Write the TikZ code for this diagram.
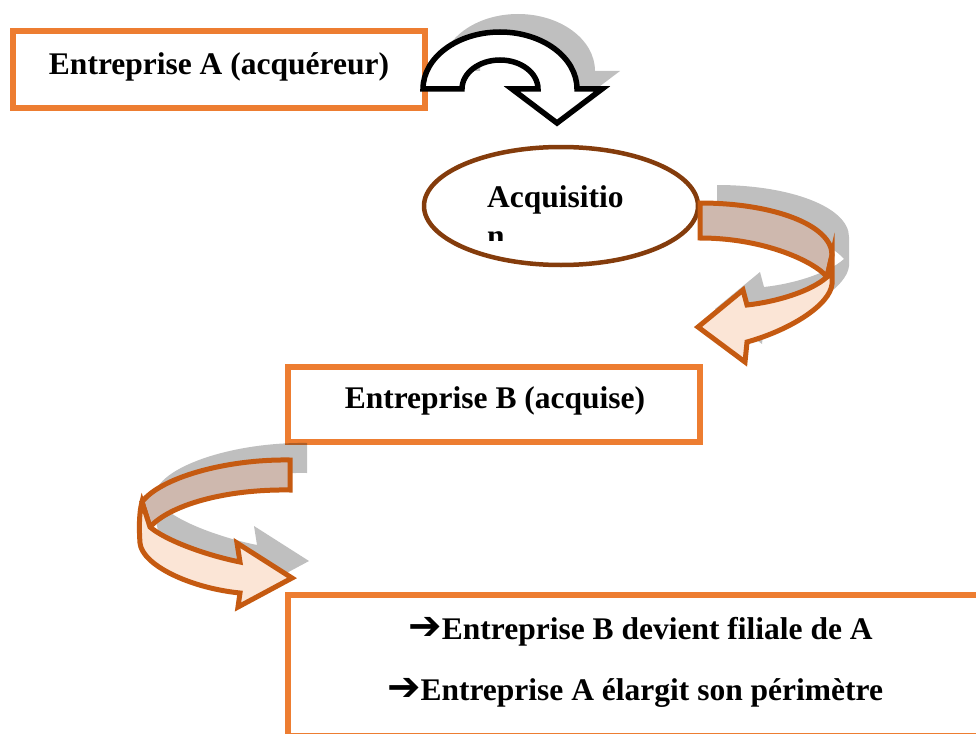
\documentclass[tikz,border=0pt]{standalone}
\usepackage{fontspec}
\setmainfont{Liberation Serif}
\newfontfamily\arrowfont{DejaVu Sans}
\usetikzlibrary{shapes.geometric}
\definecolor{boxorange}{RGB}{237,125,49}
\definecolor{ellbrown}{RGB}{132,60,12}
\definecolor{arrline}{RGB}{197,90,17}
\definecolor{frontfill}{RGB}{251,229,214}
\definecolor{backfill}{RGB}{206,184,174}
\definecolor{shadowgray}{RGB}{191,191,191}
\newcommand\topArrowPath{(423,89) .. controls (423,57.5) and (457.5,32) .. (500,32) .. controls (542.5,32) and (577,57.5) .. (577,89) -- (602,89) -- (557,123) -- (512,89) -- (538,89) .. controls (538,73) and (521,60) .. (500,60) .. controls (479,60) and (462,73) .. (462,89) -- cycle}
\newcommand\rightSil{(700,203) .. controls (773,203) and (832,225) .. (832,255) -- (832,284) .. controls (830,305) and (790,330) .. (747,342) -- (745,362) -- (698,327) -- (743,290) -- (747,305) .. controls (775,302) and (810,292) .. (827,277) .. controls (815,262) and (765,238) .. (700,238) -- cycle}
\newcommand\rightBack{(700,203) .. controls (773,203) and (832,225) .. (832,255) -- (827,277) .. controls (815,262) and (765,238) .. (700,238) -- cycle}
\newcommand\rightFront{(832,255) -- (832,284) .. controls (830,305) and (790,330) .. (747,342) -- (745,362) -- (698,327) -- (743,290) -- (747,305) .. controls (775,302) and (810,292) .. (827,277) -- cycle}
\newcommand\leftSil{(290,460) .. controls (225,459) and (160,478) .. (142,502) .. controls (139,512) and (139,530) .. (140,543) .. controls (142,565) and (190,588) .. (240,593) -- (238,607) -- (292,578) -- (237,543) -- (240,562) .. controls (205,555) and (165,540) .. (150,527) .. controls (170,505) and (225,489) .. (290,490) -- cycle}
\newcommand\leftBack{(290,460) .. controls (225,459) and (160,478) .. (142,502) -- (150,527) .. controls (170,505) and (225,489) .. (290,490) -- cycle}
\newcommand\leftFront{(142,502) .. controls (139,512) and (139,530) .. (140,543) .. controls (142,565) and (190,588) .. (240,593) -- (238,607) -- (292,578) -- (237,543) -- (240,562) .. controls (205,555) and (165,540) .. (150,527) -- cycle}
\tikzset{
  obox/.style={draw=boxorange, line width=6pt, fill=white, rectangle, inner sep=0pt},
  lbl/.style={font=\fontsize{31.5}{38}\selectfont\bfseries, inner sep=0pt, text=black},
  shadowfill/.style={fill=black, fill opacity=0.25},
  ribbon/.style={draw=arrline, line width=5pt, line join=miter},
}
\begin{document}
\begin{tikzpicture}[x=1pt, y=-1pt]
\useasboundingbox (0,0) rectangle (976,733);
\clip (0,0) rectangle (976,733);
% boxes
\node[obox, minimum width=412pt, minimum height=76.5pt] (A) at (219,69.75) {};
\node[obox, minimum width=412pt, minimum height=75.5pt] (B) at (494,404.25) {};
\node[obox, minimum width=700pt, minimum height=141pt] (R) at (638,665.5) {};
\node[draw=ellbrown, line width=4.5pt, ellipse, fill=white, minimum width=274pt, minimum height=118pt, inner sep=0pt] (acq) at (561,206) {};
% top U-turn arrow
\fill[shadowgray, shift={(18,-18)}] \topArrowPath;
\draw[black, fill=white, line width=5.5pt, line join=miter] \topArrowPath;
% right curved arrow
\fill[shadowfill, shift={(17,-18)}] \rightSil;
\draw[ribbon, fill=backfill] \rightBack;
\draw[ribbon, fill=frontfill] \rightFront;
% left curved arrow
\fill[shadowfill, shift={(17,-17)}] \leftSil;
\draw[ribbon, fill=backfill] \leftBack;
\draw[ribbon, fill=frontfill] \leftFront;
% texts
\node[lbl, anchor=base] (Atxt) at (219,75) {Entreprise A (acquéreur)};
\node[lbl, anchor=base] (Btxt) at (495,408) {Entreprise B (acquise)};
\node[lbl, anchor=base west] (acq1) at (487,207) {Acquisitio};
\begin{scope}
\clip (480,150) rectangle (640,240.5);
\node[lbl, anchor=base west] (acq2) at (487,246) {n};
\end{scope}
\node[lbl, anchor=base] (r1) at (640.5,639) {{\arrowfont\fontsize{40}{44}\selectfont ➔}Entreprise B devient filiale de A};
\node[lbl, anchor=base] (r2) at (635,700) {{\arrowfont\fontsize{40}{44}\selectfont ➔}Entreprise A élargit son périmètre};
\end{tikzpicture}
\end{document}
